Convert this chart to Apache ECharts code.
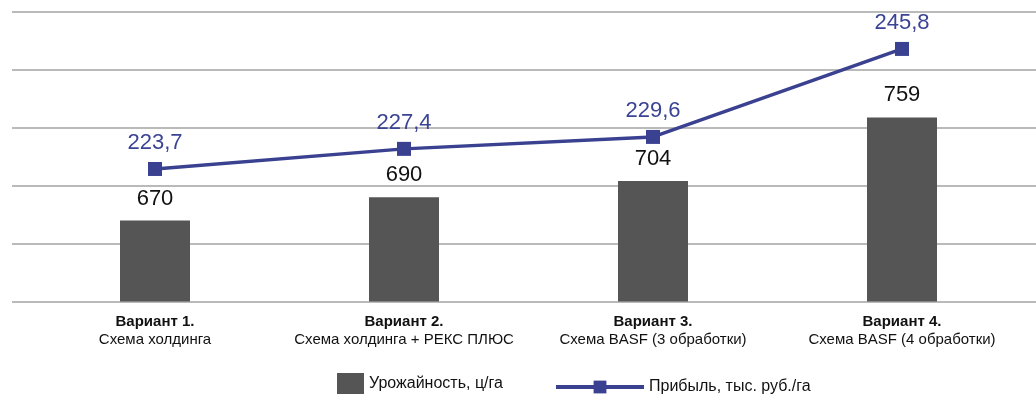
<!DOCTYPE html>
<html>
<head>
<meta charset="utf-8">
<script src="https://cdn.jsdelivr.net/npm/echarts@6/dist/echarts.min.js"></script>
<style>
  html, body { margin: 0; padding: 0; background: #ffffff; }
  #chart { width: 1036px; height: 395px; }
</style>
</head>
<body>
<div id="chart"></div>
<script>
// Variants and their descriptions
const variantTitles = ['Вариант 1.', 'Вариант 2.', 'Вариант 3.', 'Вариант 4.'];
const variantSchemes = [
  'Схема холдинга',
  'Схема холдинга + РЕКС ПЛЮС',
  'Схема BASF (3 обработки)',
  'Схема BASF (4 обработки)'
];
// Yield, c/ha
const yieldValues = [670, 690, 704, 759];
// Profit, thousand rub/ha
const profitValues = [223.7, 227.4, 229.6, 245.8];

const seriesNames = ['Урожайность, ц/га', 'Прибыль, тыс. руб./га'];

const barColor = '#555555';
const lineColor = '#3a4190';
const fontFamily = '"Liberation Sans", Arial, Helvetica, sans-serif';

const categories = variantTitles.map((t, i) => t + '\n' + variantSchemes[i]);
const fmtComma = v => String(v).replace('.', ',');

const chart = echarts.init(document.getElementById('chart'));
chart.setOption({
  animation: false,
  backgroundColor: '#ffffff',
  textStyle: { fontFamily: fontFamily },
  grid: [
    // full-width grid for horizontal gridlines
    { left: 12, right: 0, top: 12, bottom: 93.5 },
    // plotting grid for categories
    { left: 30.5, width: 996, top: 12, bottom: 93.5 }
  ],
  legend: [
    {
      data: [{ name: seriesNames[0], icon: 'rect' }],
      left: 337, top: 373, padding: 0,
      itemWidth: 27, itemHeight: 21,
      textStyle: { fontSize: 16, color: '#111', fontFamily: fontFamily }
    },
    {
      data: [seriesNames[1]],
      left: 554, top: 379, padding: 0,
      itemWidth: 88, itemHeight: 16,
      lineStyle: { width: 4 },
      textStyle: { fontSize: 16, color: '#111', fontFamily: fontFamily }
    }
  ],
  xAxis: [
    { gridIndex: 0, type: 'value', show: false, min: 0, max: 1 },
    {
      gridIndex: 1,
      type: 'category',
      data: categories,
      axisLine: { show: false },
      axisTick: { show: false },
      axisLabel: {
        margin: 11,
        interval: 0,
        formatter: (val) => {
          const parts = val.split('\n');
          return '{t|' + parts[0] + '}\n{s|' + parts[1] + '}';
        },
        rich: {
          t: { fontSize: 15, fontWeight: 'bold', color: '#111', lineHeight: 18, fontFamily: fontFamily },
          s: { fontSize: 15, color: '#111', lineHeight: 18, fontFamily: fontFamily }
        }
      }
    }
  ],
  yAxis: [
    {
      gridIndex: 0, type: 'value', min: 600, max: 850, interval: 50,
      axisLine: { show: false }, axisTick: { show: false }, axisLabel: { show: false },
      splitLine: { show: true, lineStyle: { color: '#a3a3a3', width: 1.5 } }
    },
    {
      gridIndex: 1, type: 'value', min: 600, max: 850, show: false,
      splitLine: { show: false }
    },
    {
      gridIndex: 1, type: 'value', min: 199.3, max: 252.6, show: false,
      splitLine: { show: false }
    }
  ],
  series: [
    {
      name: seriesNames[0],
      type: 'bar',
      xAxisIndex: 1, yAxisIndex: 1,
      data: yieldValues,
      barWidth: 70,
      itemStyle: { color: barColor },
      label: {
        show: true, position: 'top', distance: 11,
        fontSize: 22, color: '#111', fontFamily: fontFamily
      }
    },
    {
      name: seriesNames[1],
      type: 'line',
      xAxisIndex: 1, yAxisIndex: 2,
      data: profitValues,
      symbol: 'rect',
      symbolSize: 14,
      lineStyle: { color: lineColor, width: 3.5 },
      itemStyle: { color: lineColor },
      label: {
        show: true, position: 'top', distance: 8,
        fontSize: 22, color: '#3b4494', fontFamily: fontFamily,
        formatter: p => fmtComma(p.value)
      },
      z: 5
    }
  ]
});
</script>
</body>
</html>
